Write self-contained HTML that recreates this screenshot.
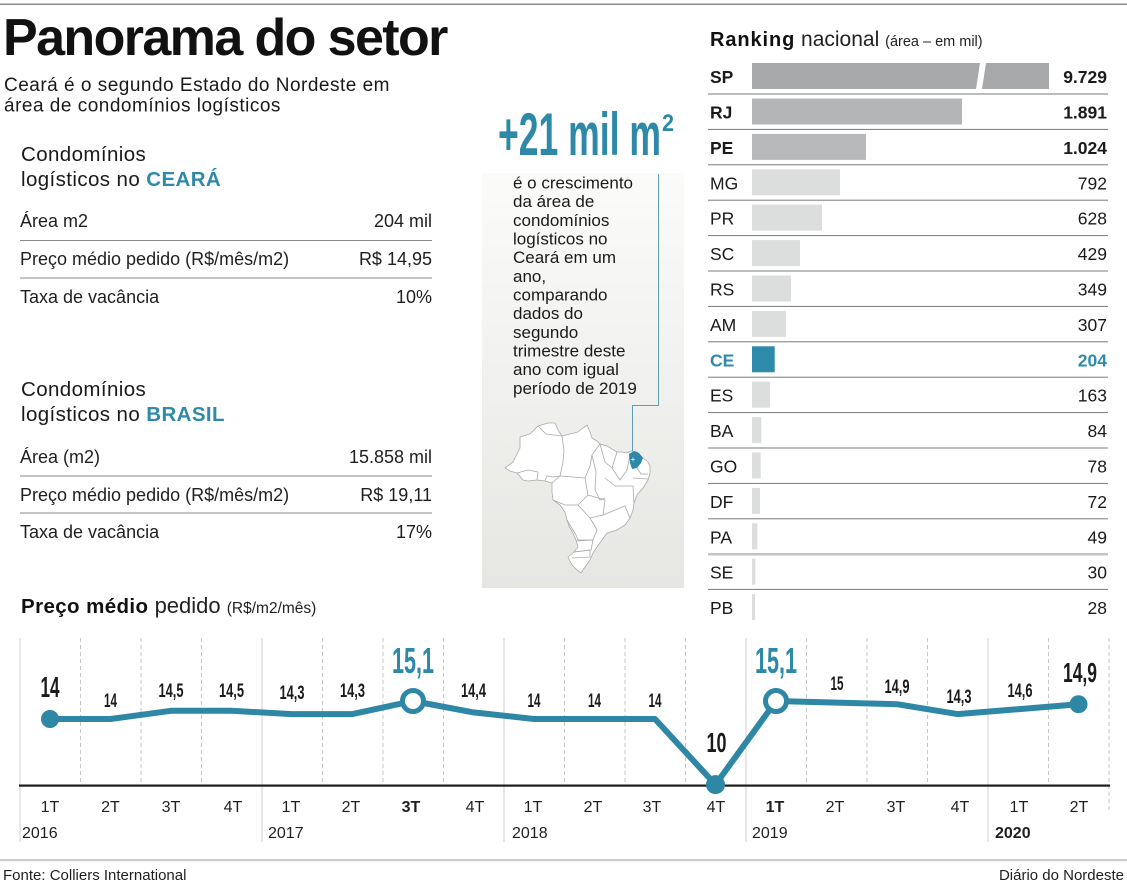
<!DOCTYPE html>
<html lang="pt-BR">
<head>
<meta charset="utf-8">
<title>Panorama do setor</title>
<style>
  html,body{margin:0;padding:0;background:#fff;}
  body{width:1127px;height:885px;overflow:hidden;}
  svg{display:block;font-family:"Liberation Sans",Arial,sans-serif;}
  .c{font-family:"Liberation Sans Narrow","Liberation Sans",sans-serif;font-weight:bold;}
</style>
</head>
<body>
<svg width="1127" height="885" viewBox="0 0 1127 885" xmlns="http://www.w3.org/2000/svg">
  <defs>
    <linearGradient id="bx" x1="0" y1="0" x2="0" y2="1">
      <stop offset="0" stop-color="#fbfbfa"/>
      <stop offset="1" stop-color="#e6e6e3"/>
    </linearGradient>
  </defs>

  <!-- top rule -->
  <rect x="0" y="3.5" width="1127" height="1.5" fill="#8c8c8c"/>

  <!-- Title -->
  <text x="3" y="55" font-size="52" font-weight="bold" letter-spacing="-1.6" fill="#111">Panorama do setor</text>
  <text x="4" y="91" font-size="19" letter-spacing="0.5" fill="#1a1a1a">Ceará é o segundo Estado do Nordeste em</text>
  <text x="4" y="111.5" font-size="19" letter-spacing="0.5" fill="#1a1a1a">área de condomínios logísticos</text>

  <!-- Ceará block -->
  <text x="21" y="161" font-size="20.5" letter-spacing="0.4" fill="#1a1a1a">Condomínios</text>
  <text x="21" y="186" font-size="20.5" letter-spacing="0.4" fill="#1a1a1a">logísticos no <tspan font-weight="bold" fill="#2f8aa9">CEARÁ</tspan></text>

  <g font-size="18" fill="#1f1f1f">
    <text x="20" y="227">Área m2</text>
    <text x="432" y="227" text-anchor="end">204 mil</text>
    <text x="20" y="265">Preço médio pedido (R$/mês/m2)</text>
    <text x="432" y="265" text-anchor="end">R$ 14,95</text>
    <text x="20" y="303">Taxa de vacância</text>
    <text x="432" y="303" text-anchor="end">10%</text>
  </g>
  <rect x="20" y="240" width="412" height="1" fill="#8a8a8a"/>
  <rect x="20" y="277.5" width="412" height="1" fill="#8a8a8a"/>

  <!-- Brasil block -->
  <text x="21" y="396" font-size="20.5" letter-spacing="0.4" fill="#1a1a1a">Condomínios</text>
  <text x="21" y="421" font-size="20.5" letter-spacing="0.4" fill="#1a1a1a">logísticos no <tspan font-weight="bold" fill="#2f8aa9">BRASIL</tspan></text>

  <g font-size="18" fill="#1f1f1f">
    <text x="20" y="463">Área (m2)</text>
    <text x="432" y="463" text-anchor="end">15.858 mil</text>
    <text x="20" y="501">Preço médio pedido (R$/mês/m2)</text>
    <text x="432" y="501" text-anchor="end">R$ 19,11</text>
    <text x="20" y="538">Taxa de vacância</text>
    <text x="432" y="538" text-anchor="end">17%</text>
  </g>
  <rect x="20" y="475.5" width="412" height="1" fill="#8a8a8a"/>
  <rect x="20" y="512.5" width="412" height="1" fill="#8a8a8a"/>

  <!-- Center box -->
  <rect x="482" y="173" width="202" height="415" fill="url(#bx)"/>
  <text class="c" x="498" y="155" font-size="60" fill="#2e88a7" textLength="163" lengthAdjust="spacingAndGlyphs">+21 mil m</text>
  <text class="c" x="662" y="131" font-size="24" fill="#2e88a7" textLength="12" lengthAdjust="spacingAndGlyphs">2</text>

  <g font-size="17" fill="#1a1a1a">
    <text x="513" y="188.5">é o crescimento</text>
    <text x="513" y="207.2">da área de</text>
    <text x="513" y="225.8">condomínios</text>
    <text x="513" y="244.5">logísticos no</text>
    <text x="513" y="263.1">Ceará em um</text>
    <text x="513" y="281.8">ano,</text>
    <text x="513" y="300.5">comparando</text>
    <text x="513" y="319.1">dados do</text>
    <text x="513" y="337.8">segundo</text>
    <text x="513" y="356.4">trimestre deste</text>
    <text x="513" y="375.1">ano com igual</text>
    <text x="513" y="393.8">período de 2019</text>
  </g>

  <!-- callout line -->
  <polyline points="658.5,174 658.5,405.5 632.5,405.5 632.5,452" fill="none" stroke="#5f9db3" stroke-width="1"/>

  <!-- Map of Brazil (simplified) -->
  <g stroke="#a9a9a9" stroke-width="0.8" stroke-linejoin="round">
    <polygon fill="#ffffff" points="505,468 513,462 520,448 520,437 530,434 538,426 548,423 555,423 558,430 562,436 570,434 578,432 583,428 587,425 590,432 592,438 597,441 600,444 607,446 612,449 617,452 622,452 627,453 631,451 637,452 643,458 648,462 650,466 650,473 648,480 643,488 637,495 634,503 633,510 630,518 625,525 617,530 607,533 602,540 597,547 593,553 590,560 585,567 581,573 577,570 572,565 568,557 574,552 578,547 576,540 573,533 569,526 567,520 565,512 560,505 553,500 552,492 552,483 545,481 537,480 528,481 523,480 517,473 510,471"/>
    <polyline fill="none" points="538,426 546,434 562,436"/>
    <polyline fill="none" points="562,436 564,450 563,462 560,476 552,483"/>
    <polyline fill="none" points="517,473 528,470 538,472 537,480"/>
    <polyline fill="none" points="545,481 547,476 553,477 560,476"/>
    <polyline fill="none" points="560,476 585,478 588,495 578,505 565,505 553,500"/>
    <polyline fill="none" points="585,478 590,466 592,455 600,444"/>
    <polyline fill="none" points="592,455 596,472 595,490 600,500 605,498"/>
    <polyline fill="none" points="600,444 605,462 612,468 617,452"/>
    <polyline fill="none" points="612,468 620,480 627,470 630,455"/>
    <polyline fill="none" points="605,478 615,486 633,486 634,503"/>
    <polyline fill="none" points="588,495 605,500 603,515 590,518 578,505"/>
    <polyline fill="none" points="603,515 625,506 630,518"/>
    <polyline fill="none" points="590,518 597,530 593,540 578,540 576,535"/>
    <polyline fill="none" points="576,535 567,520"/>
    <polyline fill="none" points="576,541 593,540 591,550 574,552"/>
    <polyline fill="none" points="574,552 590,550 590,557 572,558"/>
    <polyline fill="none" points="637,468 641,474 648,474"/>
    <polyline fill="none" points="633,478 648,479"/>
  </g>
  <polygon points="629,454 634,451 639,453 643,458 641,463 637,468 632,469 630,463" fill="#2e88a7"/>
  <text x="633" y="462" font-size="8" fill="#fff" text-anchor="middle">+</text>

  <!-- Ranking -->
  <text x="710" y="46" fill="#111"><tspan font-size="20" font-weight="bold" letter-spacing="0.9">Ranking</tspan><tspan font-size="21" fill="#222"> nacional </tspan><tspan font-size="14.5" fill="#222">(área – em mil)</tspan></text>

  <!-- row lines -->
  <g fill="#7a7a7a">
    <rect x="708" y="93.5" width="400" height="1"/>
    <rect x="708" y="128.9" width="400" height="1"/>
    <rect x="708" y="164.3" width="400" height="1"/>
    <rect x="708" y="199.7" width="400" height="1"/>
    <rect x="708" y="235.1" width="400" height="1"/>
    <rect x="708" y="270.5" width="400" height="1"/>
    <rect x="708" y="305.9" width="400" height="1"/>
    <rect x="708" y="341.3" width="400" height="1"/>
    <rect x="708" y="376.7" width="400" height="1"/>
    <rect x="708" y="412.1" width="400" height="1"/>
    <rect x="708" y="447.5" width="400" height="1"/>
    <rect x="708" y="482.9" width="400" height="1"/>
    <rect x="708" y="518.3" width="400" height="1"/>
    <rect x="708" y="588.9" width="400" height="1"/>
  </g>
  <rect x="708" y="553" width="400" height="2.5" fill="#c4c4c4"/>

  <!-- bars -->
  <polygon points="752,63 980,63 976,89 752,89" fill="#a7a8aa"/>
  <polygon points="986,63 1049,63 1049,89 982,89" fill="#a7a8aa"/>
  <rect x="752" y="98.5" width="210" height="26" fill="#b4b5b7"/>
  <rect x="752" y="133.9" width="114" height="26" fill="#b8b9bb"/>
  <rect x="752" y="169.3" width="88" height="26" fill="#dcdddd"/>
  <rect x="752" y="204.7" width="70" height="26" fill="#dcdddd"/>
  <rect x="752" y="240.1" width="48" height="26" fill="#dcdddd"/>
  <rect x="752" y="275.5" width="39" height="26" fill="#dcdddd"/>
  <rect x="752" y="310.9" width="34" height="26" fill="#dcdddd"/>
  <rect x="752" y="346.3" width="22.7" height="26" fill="#2e8aaa"/>
  <rect x="752" y="381.7" width="18" height="26" fill="#dcdddd"/>
  <rect x="752" y="417.1" width="9.3" height="26" fill="#dcdddd"/>
  <rect x="752" y="452.5" width="8.7" height="26" fill="#dcdddd"/>
  <rect x="752" y="487.9" width="8" height="26" fill="#dcdddd"/>
  <rect x="752" y="523.3" width="5.4" height="26" fill="#dcdddd"/>
  <rect x="752" y="558.7" width="3.3" height="26" fill="#dcdddd"/>
  <rect x="752" y="594.1" width="3.1" height="26" fill="#dcdddd"/>

  <!-- labels -->
  <g font-size="17.5" fill="#1a1a1a">
    <text x="710" y="83.1" font-weight="bold">SP</text>
    <text x="710" y="118.5" font-weight="bold">RJ</text>
    <text x="710" y="153.9" font-weight="bold">PE</text>
    <text x="710" y="189.3">MG</text>
    <text x="710" y="224.7">PR</text>
    <text x="710" y="260.1">SC</text>
    <text x="710" y="295.5">RS</text>
    <text x="710" y="330.9">AM</text>
    <text x="710" y="366.3" font-weight="bold" fill="#2e8aaa">CE</text>
    <text x="710" y="401.7">ES</text>
    <text x="710" y="437.1">BA</text>
    <text x="710" y="472.5">GO</text>
    <text x="710" y="507.9">DF</text>
    <text x="710" y="543.3">PA</text>
    <text x="710" y="578.7">SE</text>
    <text x="710" y="614.1">PB</text>
  </g>
  <g font-size="17.5" fill="#1a1a1a" text-anchor="end">
    <text x="1107" y="83.1" font-weight="bold">9.729</text>
    <text x="1107" y="118.5" font-weight="bold">1.891</text>
    <text x="1107" y="153.9" font-weight="bold">1.024</text>
    <text x="1107" y="189.3">792</text>
    <text x="1107" y="224.7">628</text>
    <text x="1107" y="260.1">429</text>
    <text x="1107" y="295.5">349</text>
    <text x="1107" y="330.9">307</text>
    <text x="1107" y="366.3" font-weight="bold" fill="#2e8aaa">204</text>
    <text x="1107" y="401.7">163</text>
    <text x="1107" y="437.1">84</text>
    <text x="1107" y="472.5">78</text>
    <text x="1107" y="507.9">72</text>
    <text x="1107" y="543.3">49</text>
    <text x="1107" y="578.7">30</text>
    <text x="1107" y="614.1">28</text>
  </g>

  <!-- Line chart title -->
  <text x="21" y="613" fill="#111"><tspan font-size="20.5" font-weight="bold" letter-spacing="0.4">Preço médio</tspan><tspan font-size="22" fill="#222"> pedido </tspan><tspan font-size="15.5" fill="#222">(R$/m2/mês)</tspan></text>

  <!-- grid lines -->
  <g stroke="#cfcfcf" stroke-width="1">
    <line x1="20" y1="638" x2="20" y2="842"/>
    <line x1="262" y1="638" x2="262" y2="842"/>
    <line x1="504" y1="638" x2="504" y2="842"/>
    <line x1="746" y1="638" x2="746" y2="842"/>
    <line x1="988" y1="638" x2="988" y2="842"/>
  </g>
  <g stroke="#c6c6c6" stroke-width="1" stroke-dasharray="4,3">
    <line x1="80.5" y1="638" x2="80.5" y2="785"/>
    <line x1="141" y1="638" x2="141" y2="785"/>
    <line x1="201.5" y1="638" x2="201.5" y2="785"/>
    <line x1="322.5" y1="638" x2="322.5" y2="785"/>
    <line x1="383" y1="638" x2="383" y2="785"/>
    <line x1="443.5" y1="638" x2="443.5" y2="785"/>
    <line x1="564.5" y1="638" x2="564.5" y2="785"/>
    <line x1="625" y1="638" x2="625" y2="785"/>
    <line x1="685.5" y1="638" x2="685.5" y2="785"/>
    <line x1="806.5" y1="638" x2="806.5" y2="785"/>
    <line x1="867" y1="638" x2="867" y2="785"/>
    <line x1="927.5" y1="638" x2="927.5" y2="785"/>
    <line x1="1048.5" y1="638" x2="1048.5" y2="785"/>
    <line x1="1109" y1="638" x2="1109" y2="812"/>
  </g>

  <!-- axis -->
  <rect x="19" y="784.5" width="1091" height="2.2" fill="#1c1c1c"/>

  <!-- series -->
  <polyline fill="none" stroke="#2d87a5" stroke-width="6" stroke-linejoin="round" stroke-linecap="round"
    points="50,719 110.5,719 171,710.8 231.5,710.8 292,714.1 352.5,714.1 413,701 473.5,712.4 534,719 594.5,719 655,719 715.5,784.6 776,701 836.5,702.6 897,704.2 957.5,714.1 1018,709.2 1078.5,704.2"/>
  <circle cx="50" cy="719" r="9" fill="#2d87a5"/>
  <circle cx="1078.5" cy="704.2" r="9" fill="#2d87a5"/>
  <circle cx="715.5" cy="784.6" r="9.5" fill="#2d87a5"/>
  <circle cx="413" cy="701" r="10.5" fill="#fff" stroke="#2d87a5" stroke-width="5"/>
  <circle cx="776" cy="701" r="10.5" fill="#fff" stroke="#2d87a5" stroke-width="5"/>

  <!-- value labels -->
  <g class="c" fill="#1a1a1a" text-anchor="middle">
    <text x="50" y="697" font-size="29" textLength="19" lengthAdjust="spacingAndGlyphs">14</text>
    <text x="110.5" y="707" font-size="19.5" textLength="13" lengthAdjust="spacingAndGlyphs">14</text>
    <text x="171" y="697" font-size="19.5" textLength="25" lengthAdjust="spacingAndGlyphs">14,5</text>
    <text x="231.5" y="697" font-size="19.5" textLength="25" lengthAdjust="spacingAndGlyphs">14,5</text>
    <text x="292" y="699" font-size="19.5" textLength="25" lengthAdjust="spacingAndGlyphs">14,3</text>
    <text x="352.5" y="697" font-size="19.5" textLength="25" lengthAdjust="spacingAndGlyphs">14,3</text>
    <text x="413" y="673" font-size="36" textLength="42" lengthAdjust="spacingAndGlyphs" fill="#2e88a7">15,1</text>
    <text x="473.5" y="697" font-size="19.5" textLength="25" lengthAdjust="spacingAndGlyphs">14,4</text>
    <text x="534" y="707" font-size="19.5" textLength="13" lengthAdjust="spacingAndGlyphs">14</text>
    <text x="594.5" y="707" font-size="19.5" textLength="13" lengthAdjust="spacingAndGlyphs">14</text>
    <text x="655" y="707" font-size="19.5" textLength="13" lengthAdjust="spacingAndGlyphs">14</text>
    <text x="716.5" y="752" font-size="28" textLength="20" lengthAdjust="spacingAndGlyphs">10</text>
    <text x="776" y="673" font-size="36" textLength="42" lengthAdjust="spacingAndGlyphs" fill="#2e88a7">15,1</text>
    <text x="837" y="690" font-size="19.5" textLength="13" lengthAdjust="spacingAndGlyphs">15</text>
    <text x="897" y="693" font-size="19.5" textLength="25" lengthAdjust="spacingAndGlyphs">14,9</text>
    <text x="959" y="703" font-size="19.5" textLength="25" lengthAdjust="spacingAndGlyphs">14,3</text>
    <text x="1020" y="697" font-size="19.5" textLength="25" lengthAdjust="spacingAndGlyphs">14,6</text>
    <text x="1080" y="682" font-size="28" textLength="34" lengthAdjust="spacingAndGlyphs">14,9</text>
  </g>

  <!-- quarter labels -->
  <g font-size="16" fill="#1f1f1f" text-anchor="middle">
    <text x="50" y="812">1T</text>
    <text x="110.5" y="812">2T</text>
    <text x="171" y="812">3T</text>
    <text x="233" y="812">4T</text>
    <text x="291" y="812">1T</text>
    <text x="351" y="812">2T</text>
    <text x="411" y="812" font-weight="bold">3T</text>
    <text x="475" y="812">4T</text>
    <text x="533" y="812">1T</text>
    <text x="593" y="812">2T</text>
    <text x="652" y="812">3T</text>
    <text x="716" y="812">4T</text>
    <text x="775" y="812" font-weight="bold">1T</text>
    <text x="835" y="812">2T</text>
    <text x="896" y="812">3T</text>
    <text x="960" y="812">4T</text>
    <text x="1019" y="812">1T</text>
    <text x="1079" y="812">2T</text>
  </g>
  <g font-size="16" fill="#1f1f1f">
    <text x="22" y="838">2016</text>
    <text x="268" y="838">2017</text>
    <text x="512" y="838">2018</text>
    <text x="752" y="838">2019</text>
    <text x="995" y="838" font-weight="bold">2020</text>
  </g>

  <!-- footer -->
  <rect x="0" y="859" width="1127" height="2.2" fill="#cdcdcd"/>
  <text x="3" y="880" font-size="15" fill="#1f1f1f">Fonte: Colliers International</text>
  <text x="1124" y="880" font-size="15" fill="#1f1f1f" text-anchor="end">Diário do Nordeste</text>
</svg>
</body>
</html>
